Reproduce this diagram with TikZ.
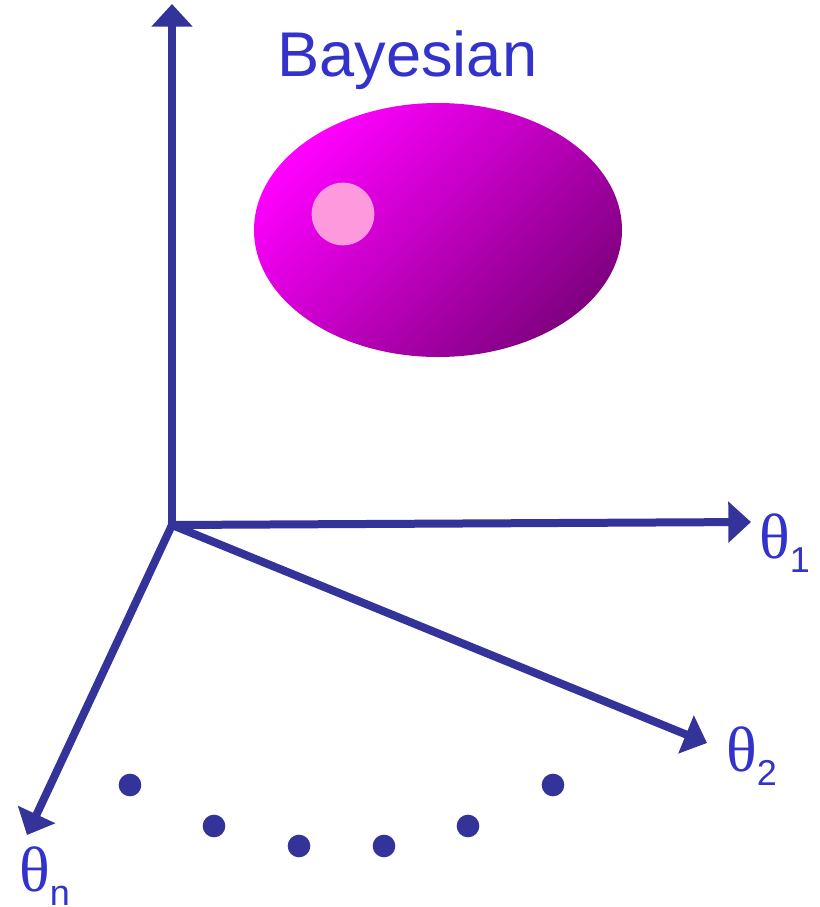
\documentclass[tikz,border=0pt]{standalone}
\usepackage{fontspec}
\setmainfont{Liberation Sans}
\newfontfamily\greekfont{Liberation Serif}
\usetikzlibrary{arrows.meta,shapes.geometric}
\definecolor{axisblue}{HTML}{333399}
\definecolor{textblue}{HTML}{3333CC}
\definecolor{hot}{HTML}{FF00FF}
\definecolor{deep}{HTML}{800080}
\definecolor{glint}{HTML}{FF99DD}
\newcommand{\thetalab}[1]{{\greekfont\fontsize{48}{48}\selectfont θ}\raisebox{-10.5pt}{\fontsize{27}{27}\selectfont #1}}

\begin{document}
\begin{tikzpicture}[x=0.75pt,y=-0.75pt,>={Triangle[length=17pt,width=30pt]},
  axisline/.style={->,axisblue,line width=6pt},
  axislabel/.style={anchor=base west,inner sep=0pt,text=textblue}]
  \useasboundingbox (0,0) rectangle (819,907);
  % the axes
  \coordinate (o) at (172,525);
  \coordinate (up) at (172,4);
  \coordinate (t1) at (751,522);
  \coordinate (t2) at (707,743);
  \coordinate (tn) at (27,835);
  \draw[axisline] (o) -- (up);
  \draw[axisline] (o) -- (t1);
  \draw[axisline] (o) -- (t2);
  \draw[axisline] (o) -- (tn);
  \node[axislabel] (lab1) at (759,558) {\thetalab{1}};
  \node[axislabel] (lab2) at (726,771) {\thetalab{2}};
  \node[axislabel] (labn) at (19,891) {\thetalab{n}};
  % the posterior blob
  \node[ellipse,minimum width=276pt,minimum height=190.5pt,inner sep=0pt,
    top color=hot,bottom color=deep,shading angle=45] (belief) at (438,230) {};
  \node[circle,fill=glint,minimum size=47pt,inner sep=0pt] (mode) at (343,214) {};
  \node[anchor=base west,inner sep=0pt,text=textblue,font=\fontsize{47.4}{47.4}\selectfont] (bayes) at (277,76) {Bayesian};
  % more dimensions
  \foreach \x/\y [count=\i] in {130/785,214/826,299/846,384/846,468/826,553/785}
    \node[circle,fill=axisblue,minimum size=17pt,inner sep=0pt] (dot\i) at (\x,\y) {};
\end{tikzpicture}
\end{document}
